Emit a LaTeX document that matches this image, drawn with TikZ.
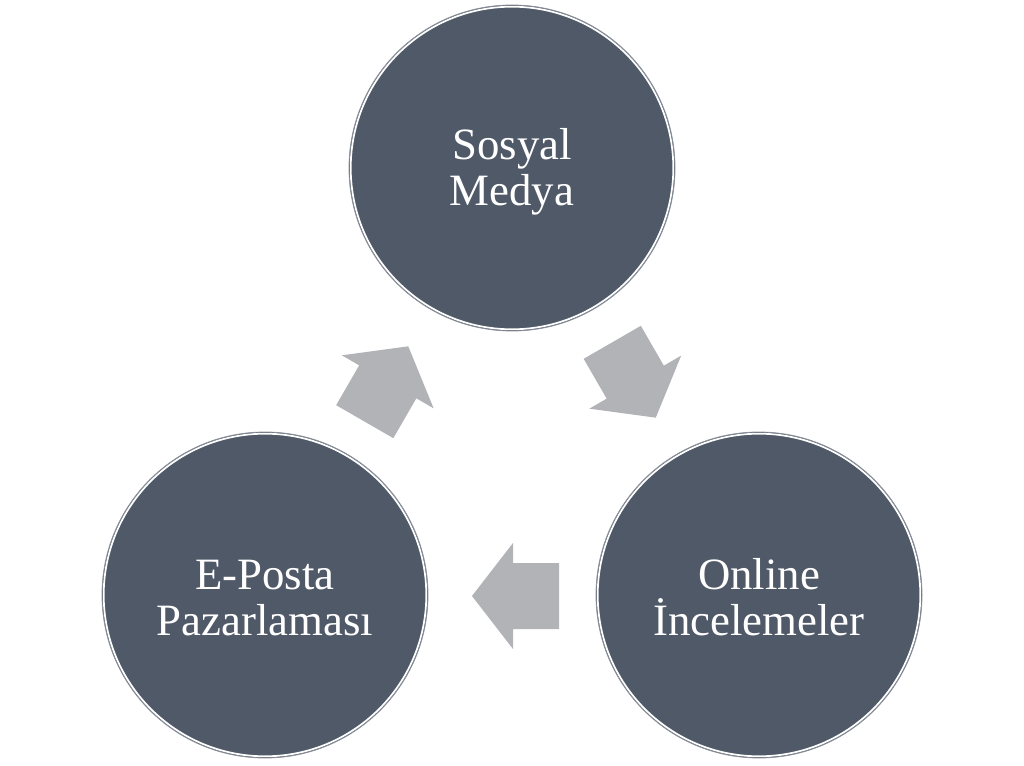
\documentclass[tikz,border=0pt]{standalone}
\usepackage{fontspec}
\setmainfont{Liberation Serif}
\definecolor{circfill}{RGB}{80,89,104}
\definecolor{circedge}{RGB}{140,146,156}
\definecolor{arrfill}{RGB}{177,179,182}
\begin{document}
\begin{tikzpicture}[x=0.75pt,y=0.75pt,
  bubble/.style={circle,fill=circfill,draw=circedge,line width=0.6pt,minimum size=244.5pt,inner sep=0pt},
  label text/.style={text=white,align=center,inner sep=0pt,font=\fontsize{33.6}{34.5}\selectfont},
  ring/.style={draw=white,line width=1.3pt},
  arrshape/.style={fill=arrfill,draw=none}]
\useasboundingbox (0,0) rectangle (1024,765);
\fill[white] (0,0) rectangle (1024,765);
% circles
\node[bubble] (top) at (512,597) {};
\node[bubble] (left) at (265,170) {};
\node[bubble] (right) at (759,170) {};
\draw[ring] (top.center) circle[radius=161.3];
\draw[ring] (left.center) circle[radius=161.3];
\draw[ring] (right.center) circle[radius=161.3];
% texts
\node[label text] (ttop) at ([yshift=-3pt]top.center) {Sosyal\\Medya};
\node[label text] (tleft) at ([yshift=-2pt]left.center) {E-Posta\\Pazarlaması};
\node[label text] (tright) at ([yshift=-2pt]right.center) {Online\\İncelemeler};
% arrows
\coordinate (a1) at (386.5,381);
\coordinate (a2) at (634,385);
\coordinate (a3) at (515.5,169);
\foreach \c/\r in {a1/60,a2/-60,a3/180}{
  \fill[arrshape,shift={(\c)},rotate=\r]
    (-43.5,-33) -- (2.5,-33) -- (2.5,-53) -- (43.5,0) -- (2.5,53) -- (2.5,33) -- (-43.5,33) -- cycle;
}
\end{tikzpicture}
\end{document}
